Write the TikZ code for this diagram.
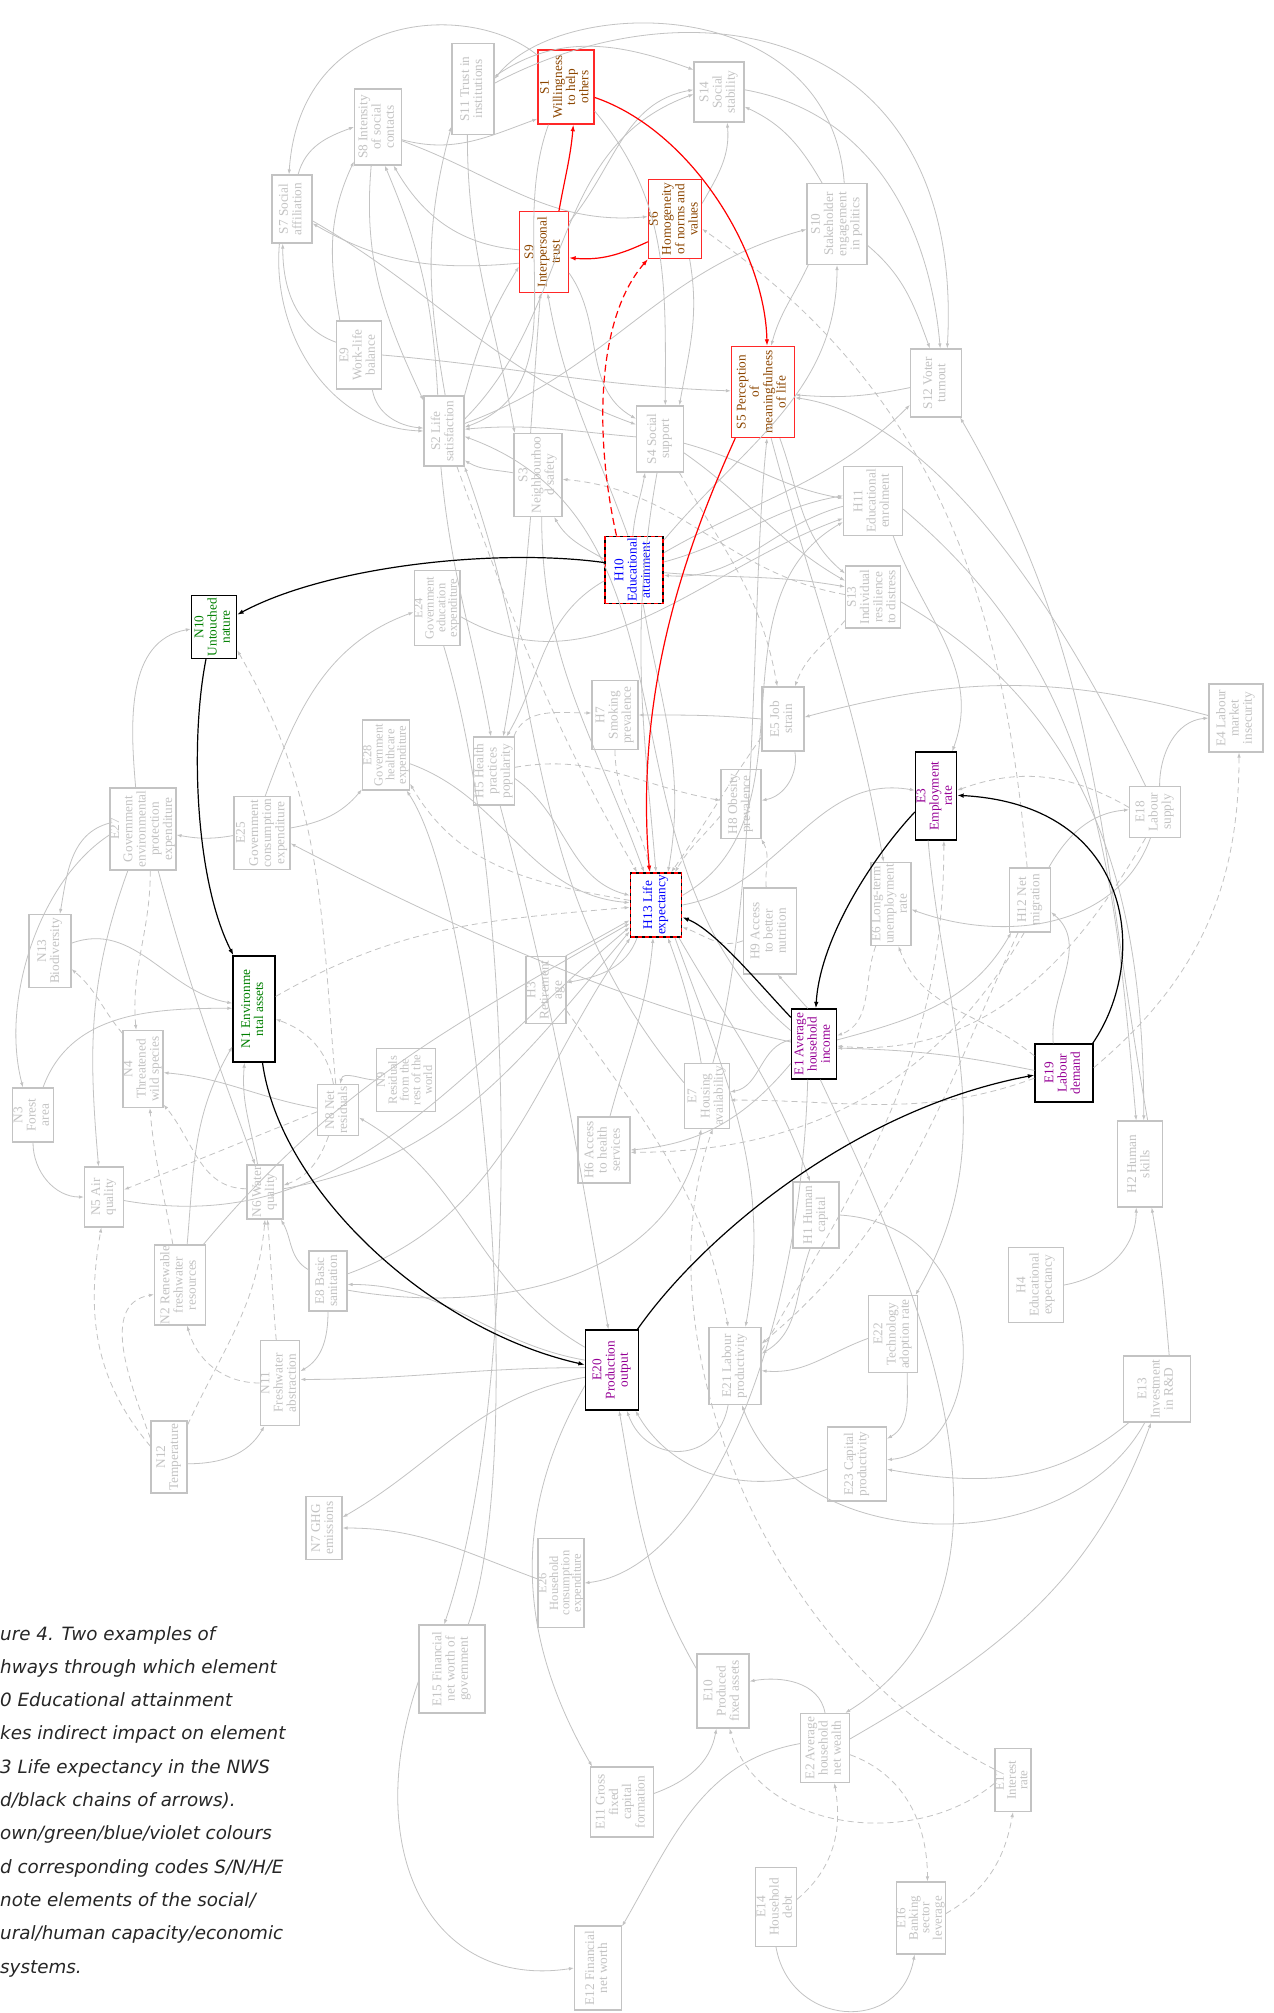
\documentclass[tikz,border=0pt]{standalone}
\usepackage{fontspec}
\usepackage{graphicx}
\setmainfont{Liberation Serif}
\newfontfamily\capfont{DejaVu Sans}
\usetikzlibrary{arrows.meta}

\definecolor{lgray}{RGB}{195,195,195}
\definecolor{sred}{RGB}{255,40,40}
\definecolor{sbrown}{RGB}{140,70,0}
\definecolor{ngreen}{RGB}{0,128,0}
\definecolor{hblue}{RGB}{0,0,255}
\definecolor{epurple}{RGB}{150,0,150}

\newcommand{\vl}[1]{\rotatebox{90}{\begin{tabular}{@{}c@{}}#1\end{tabular}}}

\tikzset{
  nd/.style={draw=lgray, text=lgray, line width=1.1pt, inner sep=0pt,
    font=\fontsize{13.3}{13.2}\selectfont},
  sz/.style 2 args={minimum width=#1pt, minimum height=#2pt},
  sm/.style={font=\fontsize{12.5}{10}\selectfont},
  md/.style={font=\fontsize{13}{11.5}\selectfont},
  soc/.style={draw=sred, text=sbrown, line width=1.3pt},
  nat/.style={draw=black, text=ngreen, line width=1.3pt},
  hum/.style={draw=black, text=hblue, line width=1.8pt,
    postaction={draw=red, line width=1.8pt, dash pattern=on 4pt off 3pt}},
  eco/.style={draw=black, text=epurple, line width=1.3pt},
  ln/.style={draw=lgray, line width=0.8pt, -{Latex[length=5pt,width=3.5pt]}},
  lnd/.style={ln, dash pattern=on 6pt off 4pt},
  rd/.style={draw=red, line width=1.2pt, -{Latex[length=6.5pt,width=4.5pt]}},
  rdd/.style={rd, dash pattern=on 7pt off 4pt},
  bk/.style={draw=black, line width=1.2pt, -{Latex[length=6.5pt,width=4.5pt]}},
  captxt/.style={font=\capfont\itshape\fontsize{18.3}{20}\selectfont, text=black!85,
    inner sep=0pt, anchor=base west},
}

\begin{document}
\begin{tikzpicture}[x=1pt,y=1pt]
\fill[white] (0,0) rectangle (1274,-2013);
\useasboundingbox (0,0) rectangle (1274,-2013);

% social
\node[nd,sz={42}{91}] (S11) at (473,-89) {\vl{S11 Trust in\\institutions}};
\node[nd,soc,sz={56}{74}] (S1) at (566,-87) {\vl{S1\\Willingness\\to help\\others}};
\node[nd,sz={47}{76}] (S8) at (378,-127) {\vl{S8 Intensity\\of social\\contacts}};
\node[nd,sz={50}{60}] (S14) at (719,-92) {\vl{S14\\Social\\stability}};
\node[nd,sz={40}{68}] (S7) at (292,-209) {\vl{S7 Social\\affiliation}};
\node[nd,soc,sz={53}{79}] (S6) at (675,-219) {\vl{S6\\Homogeneity\\of norms and\\values}};
\node[nd,sz={60}{81}] (S10) at (837,-224) {\vl{S10\\Stakeholder\\engagement\\in politics}};
\node[nd,soc,sz={49}{81}] (S9) at (544,-252) {\vl{S9\\Interpersonal\\trust}};
\node[nd,sz={45}{68}] (E9) at (359,-355) {\vl{E9\\Work-life\\balance}};
\node[nd,soc,sz={63}{91}] (S5) at (763,-392) {\vl{S5 Perception\\of\\meaningfulness\\of life}};
\node[nd,sz={51}{68}] (S12) at (936,-383) {\vl{S12 Voter\\turnout}};
\node[nd,sz={40}{70}] (S2) at (444,-431) {\vl{S2 Life\\satisfaction}};
\node[nd,sz={47}{66}] (S4) at (660,-439) {\vl{S4 Social\\support}};
\node[nd,sz={48}{83}] (S3) at (538,-475) {\vl{S3\\Neighbourhoo\\d safety}};
\node[nd,sz={55}{62}] (S13) at (873,-597) {\vl{S13\\Individual\\resilience\\to distress}};

% human capacity
\node[nd,sz={59}{69}] (H11) at (873,-501) {\vl{H11\\Educational\\enrolment}};
\node[nd,hum,sz={58}{67}] (H10) at (634,-570) {\vl{H10\\Educational\\attainment}};
\node[nd,sz={46}{69}] (H7) at (615,-715) {\vl{H7\\Smoking\\prevalence}};
\node[nd,sz={41}{68}] (H5) at (494,-771) {\vl{H5 Health\\practices\\popularity}};
\node[nd,sz={40}{69}] (H8) at (741,-804) {\vl{H8 Obesity\\prevalence}};
\node[nd,hum,sz={51}{64}] (H13) at (656,-905) {\vl{H13 Life\\expectancy}};
\node[nd,sz={41}{64}] (H12) at (1030,-900) {\vl{H12 Net\\migration}};
\node[nd,sz={53}{86}] (H9) at (770,-931) {\vl{H9 Access\\to better\\nutrition}};
\node[nd,sz={40}{67}] (H3) at (546,-990) {\vl{H3\\Retirement\\age}};
\node[nd,sz={52}{66}] (H6) at (604,-1150) {\vl{H6 Access\\to health\\services}};
\node[nd,sz={45}{86}] (H2) at (1140,-1164) {\vl{H2 Human\\skills}};
\node[nd,sz={46}{66}] (H1) at (816,-1215) {\vl{H1 Human\\capital}};
\node[nd,sz={55}{75}] (H4) at (1036,-1285) {\vl{H4\\Educational\\expectancy}};

% natural
\node[nd,nat,sz={45}{63}] (N10) at (214,-627) {\vl{N10\\Untouched\\nature}};
\node[nd,sz={42}{73}] (N13) at (50,-951) {\vl{N13\\Biodiversity}};
\node[nd,nat,sz={42}{106}] (N1) at (254,-1009) {\vl{N1 Environme\\ntal assets}};
\node[nd,sz={40}{77}] (N4) at (143,-1069) {\vl{N4\\Threatened\\wild species}};
\node[nd,sm,sz={49}{63}] (N9) at (406,-1080) {\vl{N9\\Residuals\\from the\\rest of the\\world}};
\node[nd,sz={41}{51}] (N8) at (338,-1110) {\vl{N8 Net\\residuals}};
\node[nd,sz={41}{54}] (N3) at (33,-1115) {\vl{N3\\Forest\\area}};
\node[nd,sz={36}{54}] (N6) at (265,-1192) {\vl{N6 Water\\quality}};
\node[nd,sz={39}{60}] (N5) at (104,-1197) {\vl{N5 Air\\quality}};
\node[nd,sz={51}{80}] (N2) at (180,-1285) {\vl{N2 Renewable\\freshwater\\resources}};
\node[nd,sz={38}{85}] (N11) at (280,-1383) {\vl{N11\\Freshwater\\abstraction}};
\node[nd,sz={36}{72}] (N12) at (169,-1457) {\vl{N12\\Temperature}};
\node[nd,sz={36}{63}] (N7) at (324,-1528) {\vl{N7 GHG\\emissions}};

% economic
\node[nd,sm,sz={42}{75}] (E24) at (437,-608) {\vl{E24\\Government\\education\\expenditure}};
\node[nd,sz={42}{64}] (E5) at (783,-719) {\vl{E5 Job\\strain}};
\node[nd,sz={54}{68}] (E4) at (1236,-718) {\vl{E4 Labour\\market\\insecurity}};
\node[nd,sm,sz={47}{70}] (E28) at (386,-755) {\vl{E28\\Government\\healthcare\\expenditure}};
\node[nd,eco,sz={41}{88}] (E3) at (936,-796) {\vl{E3\\Employment\\rate}};
\node[nd,sz={51}{51}] (E18) at (1155,-812) {\vl{E18\\Labour\\supply}};
\node[nd,sz={66}{82}] (E27) at (143,-829) {\vl{E27\\Government\\environmental\\protection\\expenditure}};
\node[nd,sz={56}{73}] (E25) at (262,-833) {\vl{E25\\Government\\consumption\\expenditure}};
\node[nd,sz={40}{83}] (E6) at (891,-904) {\vl{E6 Long-term\\unemployment\\rate}};
\node[nd,eco,sz={45}{70}] (E1) at (814,-1044) {\vl{E1 Average\\household\\income}};
\node[nd,eco,sz={58}{58}] (E19) at (1064,-1073) {\vl{E19\\Labour\\demand}};
\node[nd,sz={45}{65}] (E7) at (707,-1096) {\vl{E7\\Housing\\availability}};
\node[nd,sz={38}{60}] (E8) at (328,-1281) {\vl{E8 Basic\\sanitation}};
\node[nd,sz={49}{77}] (E22) at (893,-1334) {\vl{E22\\Technology\\adoption rate}};
\node[nd,sz={52}{77}] (E21) at (735,-1366) {\vl{E21 Labour\\productivity}};
\node[nd,eco,sz={53}{80}] (E20) at (612,-1370) {\vl{E20\\Production\\output}};
\node[nd,sz={67}{66}] (E13) at (1157,-1389) {\vl{E13\\Investment\\in R\&D}};
\node[nd,sz={59}{74}] (E23) at (857,-1464) {\vl{E23 Capital\\productivity}};
\node[nd,sm,sz={46}{89}] (E26) at (561,-1583) {\vl{E26\\Household\\consumption\\expenditure}};
\node[nd,sz={66}{88}] (E15) at (452,-1669) {\vl{E15 Financial\\net worth of\\government}};
\node[nd,sz={52}{74}] (E10) at (723,-1691) {\vl{E10\\Produced\\fixed assets}};
\node[nd,sz={49}{69}] (E2) at (825,-1748) {\vl{E2 Average\\household\\net wealth}};
\node[nd,md,sz={36}{63}] (E17) at (1013,-1780) {\vl{E17\\Interest\\rate}};
\node[nd,sz={63}{70}] (E11) at (622,-1802) {\vl{E11 Gross\\fixed\\capital\\formation}};
\node[nd,sz={41}{79}] (E14) at (776,-1907) {\vl{E14\\Household\\debt}};
\node[nd,md,sz={48}{72}] (E16) at (921,-1918) {\vl{E16\\Banking\\sector\\leverage}};
\node[nd,sz={47}{84}] (E12) at (598,-1968) {\vl{E12 Financial\\net worth}};

% grey links, social part
\draw[ln] (S1.132) .. controls (470,0) and (300,-10) .. (S7.95);
\draw[ln] (S7.80) to[out=75,in=200] (S8.180);
\draw[ln] (S8.-28) to[out=-15,in=200] (S1.-132);
\draw[ln] (S9.204) to[out=185,in=-30] (S7.-35);
\draw[ln] (S9.175) to[out=175,in=-60] (S8.-68);
\draw[ln] (E9.151) to[out=160,in=-90] (S7.-105);
\draw[ln] (E9.119) to[out=100,in=-115] (S8.-125);
\draw[ln] (S7.-110) to[out=-95,in=178] (S2.180);
\draw[ln] (E9.-69) to[out=-80,in=175] (S2.172);
\draw[ln] (S8.-100) to[out=-95,in=115] (S2.124);
\draw[ln] (S2.100) to[bend right=10] (S8.-80);
\draw[ln] (S2.88) to[out=100,in=-105] (S11.-120);
\draw[ln] (S11.-97) to[out=-90,in=100] (S3.119);
\draw[ln] (S2.60) to[bend left=8] (S9.-150);
\draw[ln] (S3.100) to (S9.-95);
\draw[ln] (S3.175) to[out=170,in=-30] (S2.-55);
\draw[ln] (S7.-30) to[out=-30,in=160] (S4.149);
\draw[ln] (S8.-30) to[out=-20,in=185] (S6.175);
\draw[ln] (E9.0) to[out=-5,in=178] (S5.178);
\draw[ln] (S11.30) to[out=35,in=160] (S14.139);
\draw[ln] (S10.80) .. controls (830,10) and (560,5) .. (S11.25);
\draw[ln] (S11.15) .. controls (700,25) and (965,-30) .. (S12.72);
\draw[ln] (S6.30) to[out=60,in=-85] (S14.-75);
\draw[ln] (S10.110) to[out=120,in=-25] (S14.-30);
\draw[ln] (S14.5) to[out=-10,in=95] (S12.83);
\draw[ln] (S10.-35) to[out=-40,in=110] (S12.100);
\draw[ln] (S1.-40) to[out=-50,in=90] (S4.81);
\draw[ln] (S9.-40) to[out=-55,in=150] (S4.140);
\draw[ln] (S6.-70) to[out=-80,in=80] (S4.60);
\draw[ln] (S10.-125) to[out=-115,in=75] (S5.80);
\draw[ln] (S12.190) to[bend left=8] (S5.-5);
\draw[ln] (S2.20) to[out=20,in=195] (S10.190);
\draw[ln] (S9.50) to[out=50,in=190] (S14.175);
\draw[ln] (S2.30) to[out=45,in=200] (S14.185);
\draw[ln] (S1.-115) to[out=-110,in=20] (S2.10);
\draw[ln] (S4.175) to[out=175,in=5] (S2.5);
\draw[ln] (S5.-70) to[out=-70,in=140] (S13.140);
\draw[ln] (S4.-10) to[out=-15,in=170] (H11.175);
\draw[ln] (S4.-30) to[out=-35,in=150] (S13.150);
\draw[ln] (S5.-80) to[out=-75,in=100] (E6.100);
\draw[lnd] (S13.175) to[out=170,in=-5] (S3.-10);

% grey links, around H10 and H13
\draw[ln] (H10.160) to[out=150,in=-60] (S3.-69);
\draw[ln] (H10.92) to[out=85,in=-100] (S4.-114);
\draw[ln] (H10.100) to[out=110,in=-80] (S9.-85);
\draw[ln] (H10.15) to[out=15,in=190] (H11.170);
\draw[ln] (H10.-5) to[out=-5,in=170] (S13.160);
\draw[ln] (H10.30) to[out=30,in=225] (S12.220);
\draw[ln] (H10.45) to[out=50,in=-90] (S10.-90);
\draw[ln] (H10.-75) to[out=-80,in=80] (H13.70);
\draw[ln] (H10.200) to[out=210,in=60] (H5.70);
\draw[ln] (E24.-20) to[out=-30,in=200] (H11.-150);
\draw[ln] (H11.190) to[out=195,in=-5] (H10.-10);
\draw[ln] (E7.150) to[out=130,in=-70] (S2.-60);
\draw[ln] (E1.150) to[out=140,in=-20] (S2.-15);
\draw[ln] (S3.-100) to[out=-95,in=80] (H5.75);
\draw[ln] (S2.-95) to[out=-85,in=100] (H5.95);
\draw[lnd] (S2.-70) to[out=-70,in=120] (H13.120);
\draw[ln] (S3.-85) to[out=-90,in=110] (H13.110);
\draw[ln] (S4.-95) to[out=-100,in=95] (H13.90);
\draw[lnd] (H5.60) to[out=70,in=180] (H7.175);
\draw[lnd] (H7.-90) to[out=-90,in=100] (H13.100);
\draw[ln] (E5.180) to[out=175,in=0] (H7.0);
\draw[ln] (E5.-70) to[out=-80,in=10] (H8.10);
\draw[lnd] (H5.10) to[out=10,in=170] (H8.170);
\draw[lnd] (H8.-150) to[out=-130,in=60] (H13.60);
\draw[lnd] (H9.95) to[out=95,in=-60] (H8.-60);
\draw[lnd] (H9.-160) to[out=-160,in=-20] (H13.-40);
\draw[lnd] (E5.-140) to[out=-125,in=55] (H13.65);
\draw[ln] (H5.-20) to[out=-35,in=165] (H13.160);
\draw[lnd] (S4.-60) to[out=-60,in=100] (E5.100);
\draw[lnd] (S13.-140) to[out=-130,in=70] (E5.70);
\draw[ln] (H13.20) to[out=30,in=-150] (H11.-145);
\draw[ln] (H11.-60) to[out=-70,in=70] (E3.70);
\draw[ln] (H13.0) to[out=10,in=170] (E3.165);
\draw[ln] (H13.-55) to[out=-60,in=110] (H1.100);
\draw[ln] (E7.80) .. controls (760,-900) and (750,-600) .. (S5.-85);
\draw[ln] (E18.110) .. controls (1080,-650) and (950,-420) .. (S5.-10);

% grey links, labour market
\draw[ln] (E4.175) to[out=165,in=15] (E5.5);
\draw[ln] (E18.80) to[out=90,in=185] (E4.180);
\draw[lnd] (E19.10) to[out=40,in=-90] (E4.-85);
\draw[lnd] (E18.170) to[out=150,in=20] (E3.15);
\draw[ln] (H12.60) to[out=60,in=185] (E18.175);
\draw[lnd] (H12.95) to[out=95,in=-35] (S6.-20);
\draw[ln] (E18.-100) to[out=-110,in=-20] (E6.-15);
\draw[lnd] (E18.-110) to[out=-120,in=-5] (E1.-5);
\draw[lnd] (E6.-110) to[out=-110,in=20] (E1.20);
\draw[ln] (E1.10) to[out=15,in=-120] (H12.-120);
\draw[lnd] (H12.-110) to[out=-115,in=40] (E21.40);
\draw[lnd] (H12.-100) to[out=-120,in=0] (H6.-5);
\draw[ln] (E19.110) to[out=95,in=-40] (H12.-30);
\draw[ln] (E19.175) to[bend right=5] (E1.-10);
\draw[lnd] (E19.150) to[out=140,in=-70] (E6.-80);
\draw[lnd] (E21.30) to[out=60,in=-90] (E3.-80);
\draw[ln] (E3.-100) to[out=-85,in=60] (E22.60);
\draw[ln] (H11.-15) to[out=-40,in=95] (H2.95);
\draw[ln] (S13.-10) to[out=-30,in=90] (H2.85);
\draw[ln] (H2.80) to[out=100,in=-60] (S12.-55);
\draw[ln] (H4.0) to[out=10,in=-90] (H2.-95);
\draw[ln] (E13.70) to[out=95,in=-80] (H2.-75);

% grey links, production
\draw[ln] (E22.-70) to[out=-90,in=30] (E23.40);
\draw[ln] (H1.0) .. controls (1000,-1225) and (990,-1450) .. (E23.8);
\draw[ln] (E13.-130) to[out=-140,in=-10] (E23.-10);
\draw[ln] (E13.-110) .. controls (1070,-1560) and (800,-1560) .. (E21.-80);
\draw[ln] (E2.20) to[out=30,in=-110] (E13.-100);
\draw[ln] (E22.190) to[out=200,in=-5] (E21.-10);
\draw[ln] (H1.-100) to[out=-110,in=30] (E21.25);
\draw[ln] (H3.60) to (H13.-150);
\draw[ln] (H13.-120) to[out=-110,in=10] (H3.20);
\draw[ln] (E1.170) to[out=190,in=10] (E7.10);
\draw[ln] (E1.-140) to[out=-130,in=5] (H6.0);
\draw[ln] (E1.100) to (H9.-80);
\draw[lnd] (E19.190) to[out=200,in=0] (E7.-10);
\draw[ln] (E7.100) to[out=100,in=-70] (H13.-70);
\draw[ln] (H6.80) to[out=75,in=-95] (H13.-95);
\draw[ln] (E21.-100) to[out=-100,in=-70,looseness=1.5] (E20.-70);
\draw[lnd] (H3.-45) to[out=-55,in=100] (E21.100);
\draw[ln] (H13.-60) to[out=-70,in=80] (E21.75);
\draw[ln] (H5.-80) to[out=-75,in=100] (E20.95);
\draw[ln] (E20.140) to[out=150,in=-30] (N8.-20);
\draw[ln] (E20.160) to[out=170,in=0] (E8.-10);
\draw[ln] (E8.-25) to[out=-10,in=-100] (E7.-100);
\draw[ln] (E20.175) to[out=180,in=0] (N11.10);
\draw[ln] (E20.-165) to[out=-170,in=30] (N7.30);
\draw[ln] (E26.170) to[out=160,in=0] (N7.0);
\draw[ln] (E1.-100) .. controls (800,-1350) and (700,-1570) .. (E26.0);
\draw[ln] (E20.-150) to[out=-120,in=120] (E11.130);
\draw[ln] (E24.-80) .. controls (520,-900) and (520,-1400) .. (E15.100);
\draw[ln] (E15.70) .. controls (530,-1450) and (480,-900) .. (E28.-60);
\draw[ln] (E15.-160) .. controls (360,-1850) and (430,-1990) .. (E12.180);
\draw[ln] (E2.170) to[out=190,in=60] (E12.60);
\draw[ln] (E11.15) to[out=20,in=-100] (E10.-100);
\draw[ln] (E2.90) to[out=100,in=10] (E10.20);
\draw[lnd] (E17.-170) to[out=-140,in=-75] (E10.-80);
\draw[lnd] (E14.20) to[out=40,in=-80] (E2.-75);
\draw[lnd] (E2.-15) to[out=-20,in=90] (E16.80);
\draw[ln] (E14.-90) to[out=-80,in=-100,looseness=1.5] (E16.-100);
\draw[lnd] (E16.10) to[out=30,in=-100] (E17.-90);
\draw[ln] (E10.140) to[out=120,in=-80] (E20.-80);
\draw[ln] (E1.-80) .. controls (900,-1250) and (1060,-1580) .. (E2.60);
\draw[lnd] (E17.150) .. controls (760,-1650) and (640,-1330) .. (E7.-80);
\draw[ln] (E23.190) to[out=200,in=-60] (E20.-60);
\draw[ln] (E1.175) .. controls (600,-1000) and (400,-900) .. (E25.-20);

% grey links, natural part
\draw[ln] (E27.100) to[out=95,in=190] (N10.185);
\draw[lnd] (N8.95) to[out=95,in=-60] (N10.-45);
\draw[ln] (E25.185) to[out=190,in=-10] (E27.-10);
\draw[ln] (E25.10) to[out=10,in=-130] (E28.-125);
\draw[ln] (E25.85) to[out=70,in=200] (E24.190);
\draw[ln] (E27.170) to[out=195,in=80] (N13.75);
\draw[ln] (N13.20) to[out=20,in=170] (N1.165);
\draw[lnd] (N4.120) to[out=130,in=-40] (N13.-40);
\draw[lnd] (E27.-80) to[out=-90,in=95] (N4.100);
\draw[ln] (E27.-110) to[out=-110,in=95] (N5.100);
\draw[ln] (E27.-70) to[out=-75,in=110] (N6.110);
\draw[ln] (E27.190) .. controls (40,-880) and (0,-1000) .. (N3.110);
\draw[ln] (N3.70) to[out=70,in=180] (N1.178);
\draw[lnd] (N2.100) to[out=100,in=-85] (N4.-80);
\draw[lnd] (N6.170) to[out=180,in=-50] (N4.-60);
\draw[ln] (N8.175) to[out=170,in=-5] (N4.-10);
\draw[lnd] (N8.185) to (N5.20);
\draw[lnd] (N8.-110) to[out=-110,in=20] (N6.20);
\draw[ln] (N6.105) to[out=100,in=-95] (N1.-100);
\draw[ln] (N2.80) to[out=85,in=-120] (N1.-120);
\draw[ln] (N9.180) to[out=180,in=80] (N8.85);
\draw[lnd] (N8.100) to[out=100,in=-20] (N1.-25);
\draw[lnd] (N12.150) to[out=130,in=-100] (N5.-95);
\draw[lnd] (N12.135) to[out=110,in=190] (N2.200);
\draw[lnd] (N12.60) to[out=65,in=-95] (N6.-90);
\draw[lnd] (N11.95) to[out=95,in=-85] (N6.-85);
\draw[lnd] (N11.180) to[out=180,in=-75] (N2.-80);
\draw[ln] (N12.-20) to[out=0,in=-120] (N11.-110);
\draw[ln] (E8.150) to[out=150,in=-60] (N6.-60);
\draw[ln] (E8.-90) to[out=-90,in=30] (N11.30);
\draw[ln] (N3.-90) to[out=-90,in=180] (N5.180);
\draw[ln] (N6.10) to[out=10,in=-130] (H13.-135);
\draw[ln] (N5.-10) to[out=-10,in=-140] (H13.-140);
\draw[ln] (E8.20) to[out=20,in=-125] (H13.-128);
\draw[ln] (N2.60) to[out=50,in=-150] (H13.-145);
\draw[lnd] (H13.170) to[out=170,in=-60] (E28.-50);
\draw[ln] (E28.-20) to[out=-20,in=175] (H13.175);
\draw[lnd] (N1.30) to[out=30,in=185] (H13.185);

% the two chains
\draw[rdd] (H10.117) .. controls (595,-440) and (595,-320) .. (S6.-124);
\draw[rd] (S6.220) to[out=205,in=-5] (S9.-13);
\draw[rd] (S9.70) to[out=80,in=-95] (S1.-79);
\draw[rd] (S1.-20) .. controls (690,-130) and (765,-250) .. (S5.85);
\draw[rd] (S5.-121) .. controls (680,-560) and (635,-700) .. (H13.101);
\draw[bk] (H10.166) .. controls (500,-548) and (330,-565) .. (N10.28);
\draw[bk] (N10.-104) .. controls (190,-740) and (195,-880) .. (N1.111);
\draw[bk] (N1.-81) .. controls (280,-1190) and (430,-1330) .. (E20.169);
\draw[bk] (E20.58) .. controls (700,-1240) and (850,-1110) .. (E19.184);
\draw[bk] (E19.46) .. controls (1150,-960) and (1135,-805) .. (E3.2);
\draw[bk] (E3.217) .. controls (870,-860) and (820,-940) .. (E1.87);
\draw[bk] (E1.131) .. controls (760,-985) and (715,-930) .. (H13.-25);

% caption, cut at the left edge
\foreach \ct [count=\i] in {{ure 4. Two examples of},{hways through which element},
  {0 Educational attainment},{kes indirect impact on element},
  {3 Life expectancy in the NWS},{d/black chains of arrows).},
  {own/green/blue/violet colours},{d corresponding codes S/N/H/E},
  {note elements of the social/},{ural/human capacity/economic},{systems.}}
  \node[captxt] (cap\i) at (0,{-1640-33.3*(\i-1)}) {\ct};
\end{tikzpicture}
\end{document}
